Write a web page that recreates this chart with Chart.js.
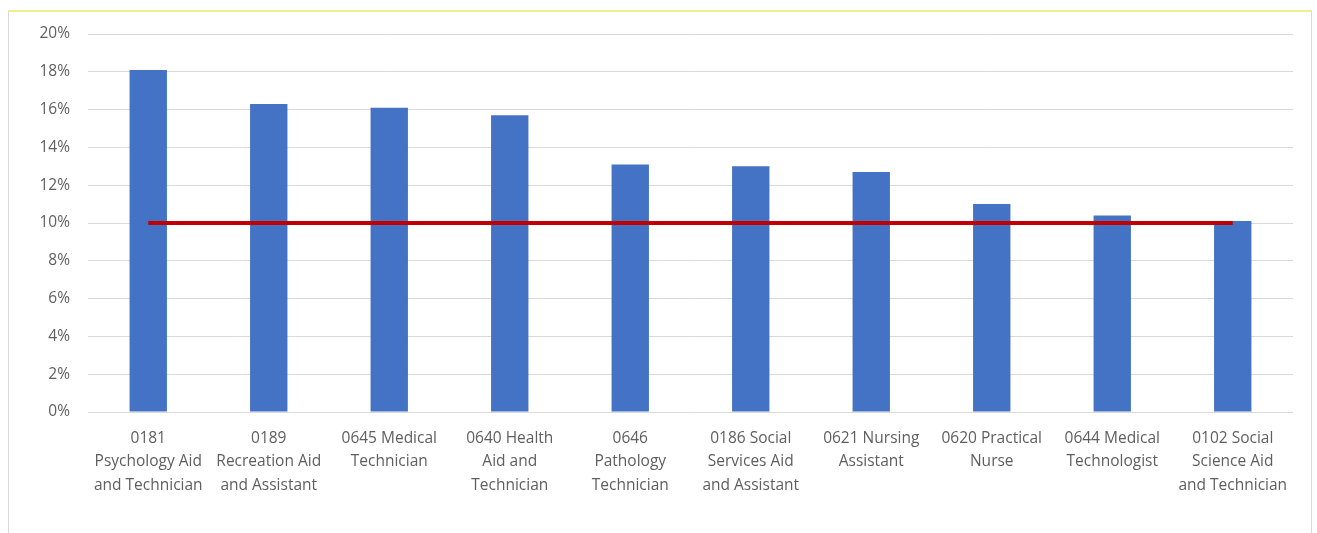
<!DOCTYPE html>
<html>
<head>
<meta charset="utf-8">
<script src="https://cdn.jsdelivr.net/npm/chart.js@4/dist/chart.umd.min.js"></script>
<style>
  html, body { margin: 0; padding: 0; background: #ffffff; }
  #wrap { position: relative; width: 1317px; height: 533px; overflow: hidden; }
  #frame {
    position: absolute; left: 8px; top: 10px; width: 1304px; height: 540px;
    border-top: 2px solid #f3ee8c; border-left: 1px solid #d9d9d9; border-right: 1px solid #d9d9d9;
    box-sizing: border-box;
  }
  #c { position: absolute; left: 0; top: 0; }
</style>
</head>
<body>
<div id="wrap">
  <div id="frame"></div>
  <canvas id="c" width="1317" height="533"></canvas>
</div>
<script>
// Occupational series, each label split into the lines it is printed on
const categories = [
  ["0181", "Psychology Aid", "and Technician"],
  ["0189", "Recreation Aid", "and Assistant"],
  ["0645 Medical", "Technician"],
  ["0640 Health", "Aid and", "Technician"],
  ["0646", "Pathology", "Technician"],
  ["0186 Social", "Services Aid", "and Assistant"],
  ["0621 Nursing", "Assistant"],
  ["0620 Practical", "Nurse"],
  ["0644 Medical", "Technologist"],
  ["0102 Social", "Science Aid", "and Technician"]
];

// Rate per series, in percent
const rates = [18.1, 16.3, 16.1, 15.7, 13.1, 13.0, 12.7, 11.0, 10.4, 10.1];

// Reference level drawn across all series, in percent
const threshold = [10, 10, 10, 10, 10, 10, 10, 10, 10, 10];

// Value axis ticks
const yTicks = [0, 2, 4, 6, 8, 10, 12, 14, 16, 18, 20];

const FONT = "'Open Sans', Lato, sans-serif";
const TEXT = "#5f5f5f";

new Chart(document.getElementById("c"), {
  data: {
    labels: categories,
    datasets: [
      {
        type: "line",
        data: threshold,
        borderColor: "#c00000",
        borderWidth: 4,
        pointRadius: 0,
        tension: 0,
        order: 0
      },
      {
        type: "bar",
        data: rates,
        backgroundColor: "#4472c4",
        categoryPercentage: 1,
        barPercentage: 0.31,
        order: 1
      }
    ]
  },
  options: {
    responsive: false,
    animation: false,
    events: [],
    layout: { padding: { left: 0, right: 24, top: 34, bottom: 0 } },
    plugins: { legend: { display: false }, tooltip: { enabled: false } },
    scales: {
      x: {
        offset: true,
        grid: { display: false, drawTicks: false },
        border: { display: false },
        ticks: {
          color: TEXT,
          font: { family: FONT, size: 15.5, lineHeight: 1.5 },
          padding: 15,
          maxRotation: 0,
          autoSkip: false
        },
        afterFit: (s) => { s.height = 121; }
      },
      y: {
        min: 0,
        max: 20,
        afterBuildTicks: (s) => { s.ticks = yTicks.map(v => ({ value: v })); },
        grid: { color: "#d9d9d9", lineWidth: 1, drawTicks: false },
        border: { display: false },
        ticks: {
          color: TEXT,
          font: { family: FONT, size: 15.5 },
          padding: 18,
          callback: (v) => v + "%"
        },
        afterFit: (s) => { s.width = 88; }
      }
    }
  }
});
</script>
</body>
</html>
